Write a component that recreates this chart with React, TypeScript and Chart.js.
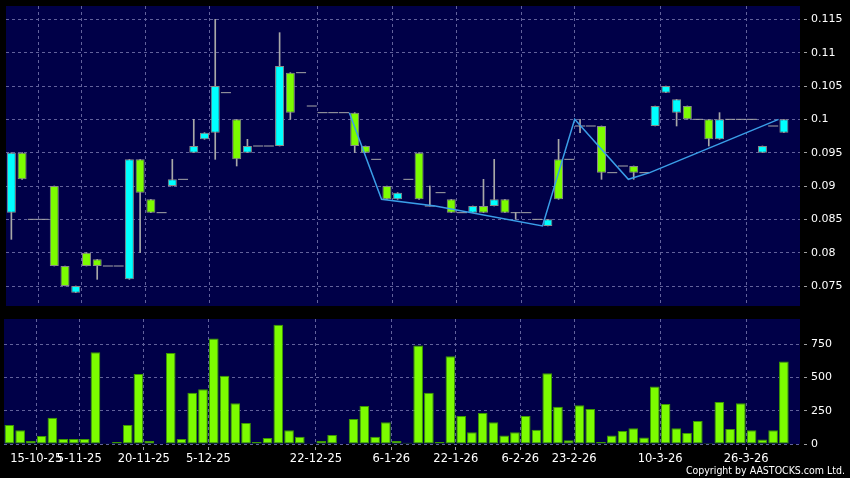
import React, { useEffect, useRef } from 'react';
import { Chart, registerables } from 'chart.js';

Chart.register(...registerables);

// ---- data ----
const openP = [
  0.086, 0.095, 0.085, 0.085, 0.090, 0.078, 0.074, 0.080, 0.079, 0.078,
  0.078, 0.076, 0.094, 0.088, 0.086, 0.090, 0.091, 0.095, 0.097, 0.098,
  0.104, 0.100, 0.095, 0.096, 0.096, 0.096, 0.107, 0.107, 0.102, 0.101,
  0.101, 0.101, 0.101, 0.096, 0.094, 0.090, 0.088, 0.091, 0.095, 0.087,
  0.089, 0.088, 0.086, 0.086, 0.087, 0.087, 0.088, 0.086, 0.086, 0.085,
  0.084, 0.094, 0.094, 0.099, 0.099, 0.099, 0.092, 0.093, 0.093, 0.092,
  0.099, 0.104, 0.101, 0.102, 0.100, 0.100, 0.097, 0.100, 0.100, 0.100,
  0.095, 0.099, 0.098,
];
const highP = [
  0.095, 0.095, 0.085, 0.085, 0.090, 0.078, 0.075, 0.080, 0.079, 0.078,
  0.078, 0.094, 0.094, 0.088, 0.086, 0.094, 0.091, 0.100, 0.098, 0.115,
  0.104, 0.100, 0.097, 0.096, 0.096, 0.113, 0.107, 0.107, 0.102, 0.101,
  0.101, 0.101, 0.101, 0.096, 0.094, 0.090, 0.089, 0.091, 0.095, 0.090,
  0.089, 0.088, 0.086, 0.087, 0.091, 0.094, 0.088, 0.086, 0.086, 0.085,
  0.085, 0.097, 0.094, 0.100, 0.099, 0.099, 0.092, 0.093, 0.093, 0.092,
  0.102, 0.105, 0.103, 0.102, 0.100, 0.100, 0.101, 0.100, 0.100, 0.100,
  0.096, 0.099, 0.100,
];
const lowP = [
  0.082, 0.091, 0.085, 0.085, 0.078, 0.075, 0.074, 0.078, 0.076, 0.078,
  0.078, 0.076, 0.080, 0.086, 0.086, 0.090, 0.091, 0.095, 0.097, 0.094,
  0.104, 0.093, 0.095, 0.096, 0.096, 0.096, 0.100, 0.107, 0.102, 0.101,
  0.101, 0.101, 0.095, 0.095, 0.094, 0.088, 0.088, 0.091, 0.088, 0.087,
  0.089, 0.086, 0.086, 0.086, 0.086, 0.087, 0.086, 0.085, 0.086, 0.085,
  0.084, 0.088, 0.094, 0.098, 0.099, 0.091, 0.092, 0.093, 0.091, 0.092,
  0.099, 0.104, 0.099, 0.100, 0.100, 0.096, 0.097, 0.100, 0.100, 0.100,
  0.095, 0.099, 0.098,
];
const closeP = [
  0.095, 0.091, 0.085, 0.085, 0.078, 0.075, 0.075, 0.078, 0.078, 0.078,
  0.078, 0.094, 0.089, 0.086, 0.086, 0.091, 0.091, 0.096, 0.098, 0.105,
  0.104, 0.094, 0.096, 0.096, 0.096, 0.108, 0.101, 0.107, 0.102, 0.101,
  0.101, 0.101, 0.096, 0.095, 0.094, 0.088, 0.089, 0.091, 0.088, 0.087,
  0.089, 0.086, 0.086, 0.087, 0.086, 0.088, 0.086, 0.086, 0.086, 0.085,
  0.085, 0.088, 0.094, 0.099, 0.099, 0.092, 0.092, 0.093, 0.092, 0.092,
  0.102, 0.105, 0.103, 0.100, 0.100, 0.097, 0.100, 0.100, 0.100, 0.100,
  0.096, 0.099, 0.100,
];
const volume = [
  143, 103, 23, 60, 198, 38, 38, 38, 690, 5,
  15, 143, 527, 23, 4, 685, 38, 386, 412, 793,
  514, 306, 158, 15, 45, 896, 103, 55, 5, 23,
  68, 4, 188, 286, 55, 163, 23, 10, 740, 386,
  15, 660, 211, 88, 233, 163, 63, 88, 211, 108,
  532, 281, 28, 291, 264, 15, 63, 98, 118, 48,
  432, 301, 118, 83, 173, 8, 316, 113, 306, 103,
  33, 103, 620,
];
// zig-zag trend line (x in candle units, y in price)
const trendX = [31.5, 34.5, 39.5, 49.5, 52.5, 57.5, 59.5, 71.5];
const trendY = [0.101, 0.088, 0.087, 0.084, 0.100, 0.091, 0.092, 0.100];

// date labels and the candle that each date starts at
const dateLabels = ['15-10-25', '5-11-25', '20-11-25', '5-12-25', '22-12-25', '6-1-26', '22-1-26', '6-2-26', '23-2-26', '10-3-26', '26-3-26'];
const dateCandle = [3, 7, 13, 19, 29, 36, 42, 48, 53, 61, 69];

const priceTicks = [0.075, 0.08, 0.085, 0.09, 0.095, 0.1, 0.105, 0.11, 0.115];
const priceTickLabels = ['0.075', '0.08', '0.085', '0.09', '0.095', '0.1', '0.105', '0.11', '0.115'];
const volumeTicks = [0, 250, 500, 750];
const volumeTickLabels = ['0', '250', '500', '750'];

const PRICE_MIN = 0.072;
const PRICE_MAX = 0.117;
const VOL_MAX = 940;

// ---- styles ----
const AREA_BG = '#000048';
const GRID = '#62629c';
const TICK_MARK = '#a0a0a0';
const UP = '#00ffff';
const DOWN = '#7cfc00';
const BODY_BORDER = '#8a8a8a';
const WICK = '#a8a8a8';
const FONT = "'DejaVu Sans', sans-serif";

const areaBg = {
  id: 'areaBg',
  beforeDraw(chart: any) {
    const { ctx, chartArea } = chart;
    ctx.save();
    ctx.fillStyle = AREA_BG;
    ctx.fillRect(chartArea.left, chartArea.top, chartArea.right - chartArea.left, chartArea.bottom - chartArea.top);
    ctx.restore();
  },
};

function xScale(showLabels: boolean): any {
  return {
    type: 'linear',
    min: -0.5,
    max: closeP.length + 0.5,
    bounds: 'data',
    offset: false,
    afterBuildTicks: (s: any) => {
      s.ticks = dateCandle.map((i) => ({ value: i - 0.5 }));
    },
    grid: {
      offset: false,
      color: GRID,
      lineWidth: 1,
      drawTicks: showLabels,
      tickLength: 6,
      tickColor: TICK_MARK,
      tickBorderDash: [3, 3],
      tickBorderDashOffset: 3,
    },
    border: { display: false, dash: [3, 3] },
    ticks: {
      display: showLabels,
      autoSkip: false,
      maxRotation: 0,
      minRotation: 0,
      color: '#ffffff',
      padding: 2,
      font: { family: FONT, size: 11.5 },
      callback: (_v: any, i: number) => dateLabels[i],
    },
    afterFit: (s: any) => {
      s.height = showLabels ? 34 : 0;
      s.paddingLeft = 0;
      s.paddingRight = 0;
    },
  };
}

function yScale(min: number, max: number, values: number[], labels: string[]): any {
  return {
    position: 'right',
    min,
    max,
    bounds: 'data',
    afterBuildTicks: (s: any) => {
      s.ticks = values.map((v) => ({ value: v }));
    },
    grid: {
      color: GRID,
      lineWidth: 1,
      drawTicks: true,
      tickLength: 7,
      tickColor: TICK_MARK,
      tickBorderDash: [3, 4],
      tickBorderDashOffset: 3,
    },
    border: { display: false, dash: [3, 3] },
    ticks: {
      color: '#ffffff',
      padding: 4,
      font: { family: FONT, size: 11 },
      callback: (_v: any, i: number) => labels[i],
    },
    afterFit: (s: any) => {
      s.width = 50;
      s.paddingTop = 0;
      s.paddingBottom = 0;
    },
  };
}

export default function App() {
  const priceRef = useRef<HTMLCanvasElement>(null);
  const volRef = useRef<HTMLCanvasElement>(null);

  useEffect(() => {
    Chart.defaults.font.family = FONT;
    const idx = closeP.map((_, i) => i);
    const up = idx.filter((i) => closeP[i] > openP[i]);
    const down = idx.filter((i) => closeP[i] < openP[i]);
    const flat = idx.filter((i) => closeP[i] === openP[i]);
    const wicks = idx.filter((i) => highP[i] > lowP[i]);

    const priceChart = new Chart(priceRef.current as HTMLCanvasElement, {
      type: 'bar',
      data: {
        datasets: [
          {
            type: 'line',
            data: trendX.map((x, k) => ({ x, y: trendY[k] })),
            borderColor: '#3a9ee8',
            borderWidth: 1.5,
            pointRadius: 0,
            tension: 0,
            order: 0,
          } as any,
          {
            type: 'bar',
            data: up.map((i) => ({ x: i, y: [openP[i], closeP[i]] })),
            backgroundColor: UP,
            borderColor: BODY_BORDER,
            borderWidth: 1,
            borderSkipped: false,
            grouped: false,
            categoryPercentage: 1,
            barPercentage: 0.84,
            order: 1,
          } as any,
          {
            type: 'bar',
            data: down.map((i) => ({ x: i, y: [closeP[i], openP[i]] })),
            backgroundColor: DOWN,
            borderColor: BODY_BORDER,
            borderWidth: 1,
            borderSkipped: false,
            grouped: false,
            categoryPercentage: 1,
            barPercentage: 0.84,
            order: 1,
          } as any,
          {
            type: 'scatter',
            data: flat.map((i) => ({ x: i, y: closeP[i] })),
            pointStyle: 'line',
            pointRadius: 5,
            pointHoverRadius: 5,
            pointBorderColor: WICK,
            borderColor: WICK,
            pointBorderWidth: 1,
            order: 1,
          } as any,
          {
            type: 'bar',
            data: wicks.map((i) => ({ x: i, y: [lowP[i], highP[i]] })),
            backgroundColor: WICK,
            borderWidth: 0,
            grouped: false,
            categoryPercentage: 1,
            barPercentage: 1,
            maxBarThickness: 1,
            order: 2,
          } as any,
        ],
      },
      options: {
        responsive: false,
        animation: false,
        events: [],
        layout: { padding: { left: 4, top: 6, right: 0, bottom: 6 } },
        plugins: { legend: { display: false }, tooltip: { enabled: false } },
        scales: {
          x: xScale(false),
          y: yScale(PRICE_MIN, PRICE_MAX, priceTicks, priceTickLabels),
        },
      } as any,
      plugins: [areaBg],
    });

    const volChart = new Chart(volRef.current as HTMLCanvasElement, {
      type: 'bar',
      data: {
        datasets: [
          {
            data: volume.map((v, i) => ({ x: i, y: v })),
            backgroundColor: DOWN,
            borderColor: '#3c9a00',
            borderWidth: 1,
            borderSkipped: false,
            grouped: false,
            categoryPercentage: 1,
            barPercentage: 0.9,
          } as any,
        ],
      },
      options: {
        responsive: false,
        animation: false,
        events: [],
        layout: { padding: { left: 4, top: 9, right: 0, bottom: 0 } },
        plugins: { legend: { display: false }, tooltip: { enabled: false } },
        scales: {
          x: xScale(true),
          y: yScale(0, VOL_MAX, volumeTicks, volumeTickLabels),
        },
      } as any,
      plugins: [areaBg],
    });

    return () => {
      priceChart.destroy();
      volChart.destroy();
    };
  }, []);

  return (
    <div
      style={{
        position: 'fixed',
        left: 0,
        top: 0,
        width: 850,
        height: 478,
        background: '#000000',
        overflow: 'hidden',
      }}
    >
      <canvas ref={priceRef} width={850} height={312} style={{ position: 'absolute', left: 0, top: 0 }} />
      <canvas ref={volRef} width={850} height={168} style={{ position: 'absolute', left: 0, top: 310 }} />
      <div
        style={{
          position: 'absolute',
          right: 5,
          top: 464,
          color: '#ffffff',
          fontFamily: "'DejaVu Sans Condensed', 'DejaVu Sans', sans-serif",
          fontSize: 10.5,
          lineHeight: '13px',
          whiteSpace: 'nowrap',
        }}
      >
        Copyright by AASTOCKS.com Ltd.
      </div>
    </div>
  );
}
